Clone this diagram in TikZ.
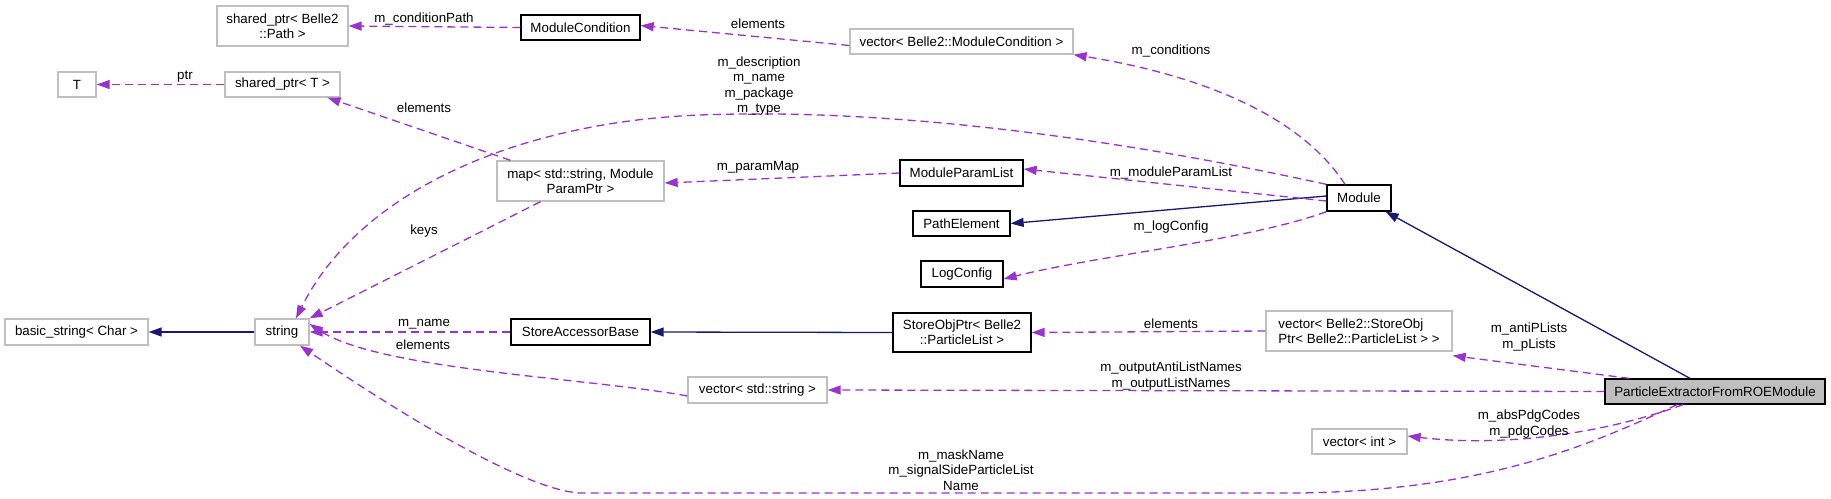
\documentclass[tikz,border=0pt]{standalone}
\usepackage{fontspec}
\setmainfont{Liberation Sans}
\usetikzlibrary{arrows.meta}

\definecolor{grey75}{HTML}{BFBFBF}
\definecolor{orchidline}{HTML}{9A32CD}
\definecolor{navyline}{HTML}{191970}
\newcommand{\dgfont}{\fontsize{13.33}{15.3}\selectfont}

\tikzset{every picture/.style={line width=1.3pt}}
\tikzset{
  docnode/.style={draw=black, fill=white, inner sep=0pt, align=center, font=\dgfont},
  extnode/.style={docnode, draw=grey75},
  mainnode/.style={docnode, fill=grey75},
  usage/.style={draw=orchidline, dash pattern=on 8pt off 5pt, -{Triangle[length=13pt,width=9pt]}},
  inherit/.style={draw=navyline, -{Triangle[length=13pt,width=9pt]}},
  edgelabel/.style={inner sep=0pt, align=center, font=\dgfont},
}

\begin{document}
\begin{tikzpicture}[x=1pt,y=1pt,yscale=-1,xscale=1]
	\useasboundingbox (0,0) rectangle (1831,498);

	%Classes
	\node[extnode, minimum width=131pt, minimum height=40pt] (path) at (282.5,26) {shared\_ptr< Belle2\\::Path >};
	\node[docnode, minimum width=119pt, minimum height=25pt] (modcond) at (580.5,27.5) {ModuleCondition};
	\node[extnode, minimum width=223pt, minimum height=25pt] (veccond) at (961.5,41.5) {vector< Belle2::ModuleCondition >};
	\node[extnode, minimum width=38pt, minimum height=25pt] (T) at (77,84.5) {T};
	\node[extnode, minimum width=115pt, minimum height=25pt] (sptrT) at (282.5,84.5) {shared\_ptr< T >};
	\node[extnode, minimum width=167pt, minimum height=40pt] (map) at (580.5,181) {map< std::string, Module\\ParamPtr >};
	\node[docnode, minimum width=123pt, minimum height=26pt] (mpl) at (961.5,173) {ModuleParamList};
	\node[docnode, minimum width=64pt, minimum height=26pt] (module) at (1359,198) {Module};
	\node[docnode, minimum width=97pt, minimum height=25pt] (pathel) at (961.5,223.5) {PathElement};
	\node[docnode, minimum width=82pt, minimum height=26pt] (logcfg) at (962,274) {LogConfig};
	\node[extnode, minimum width=143pt, minimum height=26pt] (bstr) at (76.5,332) {basic\_string< Char >};
	\node[extnode, minimum width=54pt, minimum height=26pt] (string) at (282,332) {string};
	\node[docnode, minimum width=139pt, minimum height=26pt] (sab) at (580.5,332) {StoreAccessorBase};
	\node[docnode, minimum width=138pt, minimum height=39pt] (sop) at (962,332.5) {StoreObjPtr< Belle2\\::ParticleList >};
	\node[extnode, minimum width=186pt, minimum height=40pt, align=left] (vecsop) at (1359,331) {vector< Belle2::StoreObj\\Ptr< Belle2::ParticleList > >};
	\node[extnode, minimum width=139pt, minimum height=26pt] (vecstr) at (757.5,390) {vector< std::string >};
	\node[mainnode, minimum width=220pt, minimum height=25pt] (pefr) at (1715,391.5) {ParticleExtractorFromROEModule};
	\node[extnode, minimum width=95pt, minimum height=25pt] (vecint) at (1359.5,441.5) {vector< int >};

	%Inheritance
	\draw[inherit] ([yshift=-2pt]module.west) -- (pathel.east);
	\draw[inherit] (string.west) -- (bstr.east);
	\draw[inherit] (sop.west) -- (sab.east);
	\draw[inherit] ([xshift=-25pt]pefr.north) -- ([xshift=-6pt]module.south east);

	%Usage
	\draw[usage] (modcond.west) -- (path.east);
	\draw[usage] ([yshift=4pt]veccond.west) -- ([yshift=-2pt]modcond.east);
	\draw[usage] ([xshift=-14pt]module.north) .. controls (1300,115) and (1200,75) .. (veccond.south east);
	\draw[usage] (sptrT.west) -- (T.east);
	\draw[usage] ([xshift=-70pt]map.north) -- ([xshift=45pt]sptrT.south);
	\draw[usage] (module.north west) .. controls (1100,135) and (880,108) .. (700,115) .. controls (520,122) and (360,190) .. ([xshift=14pt]string.north);
	\draw[usage] ([yshift=3pt]module.west) -- ([yshift=-4pt]mpl.east);
	\draw[usage] (module.south west) .. controls (1250,240) and (1100,255) .. ([yshift=5pt]logcfg.east);
	\draw[usage] (mpl.west) -- ([yshift=2pt]map.east);
	\draw[usage] ([xshift=-40pt]map.south) -- (string.north east);
	\draw[usage] (sab.west) -- (string.east);
	\draw[usage] (vecsop.west) -- (sop.east);
	\draw[usage] ([xshift=25pt]pefr.north west) -- ([yshift=4pt]vecsop.south east);
	\draw[usage] (pefr.west) -- (vecstr.east);
	\draw[usage] ([yshift=6pt]vecstr.west) .. controls (590,378) and (380,370) .. ([yshift=-8pt]string.east);
	\draw[usage] ([xshift=-32pt]pefr.south) .. controls (1600,435) and (1500,447) .. ([yshift=-5.5pt]vecint.east);
	\draw[usage] ([xshift=-38pt]pefr.south) .. controls (1580,450) and (1480,490) .. (1300,493) -- (580,493) .. controls (520,490) and (380,400) .. ([xshift=18pt]string.south);

	%Labels
	\node[edgelabel] (lcondpath) at (424,19) {m\_conditionPath};
	\node[edgelabel] (lcondelem) at (758,24) {elements};
	\node[edgelabel] (lconds) at (1171,51) {m\_conditions};
	\node[edgelabel] (lptr) at (185,77) {ptr};
	\node[edgelabel] (ldescr) at (759,86) {m\_description\\m\_name\\m\_package\\m\_type};
	\node[edgelabel] (lmapelem) at (424,108) {elements};
	\node[edgelabel] (lparammap) at (758,167) {m\_paramMap};
	\node[edgelabel] (lmpl) at (1171,173) {m\_moduleParamList};
	\node[edgelabel] (llogcfg) at (1171,227) {m\_logConfig};
	\node[edgelabel] (lkeys) at (424,231) {keys};
	\node[edgelabel] (lname) at (424,324) {m\_name};
	\node[edgelabel] (lsopelem) at (1171,324) {elements};
	\node[edgelabel] (lstrelem) at (423,345) {elements};
	\node[edgelabel] (lplists) at (1529,337) {m\_antiPLists\\m\_pLists};
	\node[edgelabel] (loutnames) at (1171,376) {m\_outputAntiListNames\\m\_outputListNames};
	\node[edgelabel] (lpdg) at (1529,424) {m\_absPdgCodes\\m\_pdgCodes};
	\node[edgelabel] (lmask) at (961,470) {m\_maskName\\m\_signalSideParticleList\\Name};
\end{tikzpicture}
\end{document}
